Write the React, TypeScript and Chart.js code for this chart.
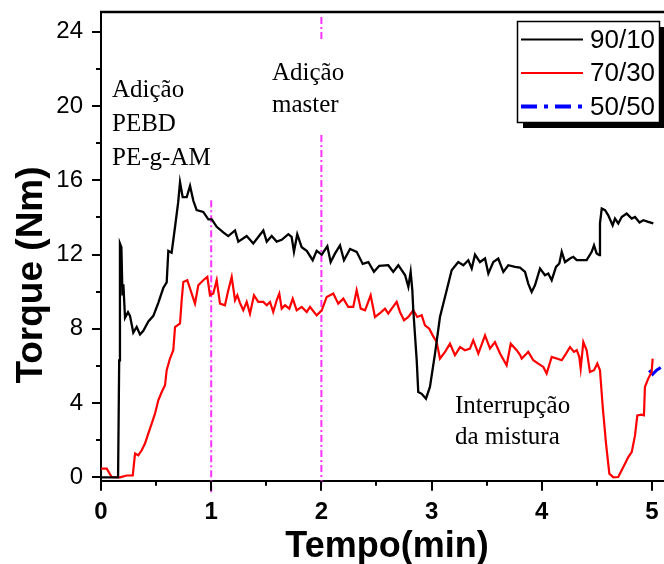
import React, { useEffect, useRef } from 'react';
import { Chart, registerables } from 'chart.js';

Chart.register(...registerables);

const SANS = "'Liberation Sans', Arial, Helvetica, sans-serif";
const SERIF = "'Liberation Serif', 'Times New Roman', Times, serif";

// ---- data (time in min, torque in Nm) ----
const t9010 = [0, 0.155, 0.165, 0.172, 0.185, 0.195, 0.203, 0.218, 0.245, 0.263, 0.293, 0.324, 0.354, 0.384, 0.43, 0.475, 0.52, 0.565, 0.596, 0.611, 0.641, 0.672, 0.7, 0.717, 0.741, 0.778, 0.808, 0.838, 0.868, 0.928, 0.974, 1.005, 1.05, 1.11, 1.155, 1.216, 1.246, 1.322, 1.382, 1.427, 1.473, 1.504, 1.549, 1.594, 1.64, 1.7, 1.73, 1.751, 1.781, 1.821, 1.867, 1.921, 1.957, 2.003, 2.054, 2.084, 2.123, 2.169, 2.205, 2.26, 2.32, 2.375, 2.426, 2.477, 2.525, 2.607, 2.652, 2.698, 2.759, 2.789, 2.81, 2.825, 2.834, 2.865, 2.879, 2.91, 2.949, 2.985, 3.031, 3.076, 3.137, 3.182, 3.242, 3.288, 3.333, 3.364, 3.394, 3.439, 3.485, 3.515, 3.56, 3.605, 3.651, 3.696, 3.757, 3.802, 3.848, 3.877, 3.908, 3.938, 3.984, 4.029, 4.059, 4.09, 4.129, 4.159, 4.181, 4.211, 4.256, 4.286, 4.317, 4.407, 4.453, 4.474, 4.498, 4.522, 4.528, 4.544, 4.574, 4.603, 4.643, 4.664, 4.694, 4.725, 4.77, 4.816, 4.846, 4.887, 4.921, 4.966, 5.012];
const v9010 = [0, 0, 6.3, 12.6, 12.4, 9.8, 10.4, 8.6, 8.9, 8.7, 7.8, 8.1, 7.7, 7.9, 8.4, 8.7, 9.4, 10.2, 10.5, 12.2, 12.1, 13.5, 14.8, 15.9, 15.1, 15.1, 15.7, 14.9, 14.4, 14.3, 13.9, 13.9, 13.5, 13.2, 13.0, 13.3, 12.7, 13.0, 12.6, 12.95, 13.3, 12.7, 13.0, 12.7, 12.8, 13.1, 12.95, 12.15, 13.1, 12.4, 12.2, 11.7, 12.2, 12.0, 12.45, 11.6, 12.05, 12.5, 11.7, 12.3, 12.15, 11.5, 11.6, 11.07, 11.4, 11.43, 11.07, 11.43, 10.9, 10.26, 11.07, 10.1, 9.0, 6.3, 4.6, 4.5, 4.24, 4.87, 6.67, 8.64, 10.08, 11.16, 11.6, 11.43, 11.7, 11.25, 12.0, 11.6, 11.79, 10.98, 11.6, 11.79, 11.07, 11.43, 11.34, 11.3, 11.07, 10.44, 9.99, 10.35, 11.25, 10.89, 10.98, 10.62, 11.34, 11.52, 12.15, 11.6, 11.79, 11.88, 11.7, 11.7, 12.15, 12.5, 12.06, 11.97, 13.68, 14.48, 14.39, 14.12, 13.58, 13.94, 13.68, 14.03, 14.21, 13.94, 14.03, 13.73, 13.85, 13.76, 13.68];

const t7030 = [0, 0.052, 0.097, 0.172, 0.233, 0.288, 0.309, 0.338, 0.369, 0.399, 0.429, 0.46, 0.49, 0.52, 0.551, 0.581, 0.596, 0.626, 0.656, 0.672, 0.717, 0.732, 0.747, 0.783, 0.823, 0.853, 0.883, 0.928, 0.965, 0.989, 1.019, 1.05, 1.08, 1.125, 1.155, 1.186, 1.216, 1.237, 1.261, 1.291, 1.322, 1.352, 1.388, 1.427, 1.473, 1.504, 1.534, 1.563, 1.594, 1.618, 1.64, 1.67, 1.709, 1.74, 1.776, 1.821, 1.867, 1.897, 1.957, 2.003, 2.048, 2.108, 2.153, 2.199, 2.244, 2.289, 2.32, 2.357, 2.396, 2.447, 2.486, 2.532, 2.577, 2.607, 2.638, 2.683, 2.713, 2.75, 2.789, 2.834, 2.87, 2.91, 2.94, 2.979, 3.01, 3.046, 3.076, 3.122, 3.167, 3.212, 3.258, 3.303, 3.348, 3.378, 3.424, 3.485, 3.53, 3.575, 3.621, 3.681, 3.718, 3.772, 3.802, 3.818, 3.863, 3.877, 3.923, 3.968, 4.014, 4.044, 4.09, 4.135, 4.181, 4.22, 4.256, 4.292, 4.317, 4.34, 4.353, 4.377, 4.407, 4.437, 4.474, 4.504, 4.528, 4.553, 4.583, 4.613, 4.649, 4.694, 4.74, 4.785, 4.816, 4.846, 4.867, 4.906, 4.927, 4.936, 4.966, 4.997, 5.006];
const v7030 = [0.47, 0.47, 0.02, 0.0, 0.1, 0.1, 1.28, 1.19, 1.46, 1.82, 2.36, 2.9, 3.43, 4.15, 4.6, 4.96, 5.77, 6.4, 6.85, 8.1, 8.29, 9.54, 10.53, 10.62, 9.9, 9.36, 10.35, 10.62, 10.8, 9.81, 9.9, 10.62, 9.36, 9.27, 10.08, 10.8, 9.54, 9.81, 9.4, 9.0, 9.45, 8.82, 9.81, 9.45, 9.45, 9.27, 9.45, 8.91, 9.54, 9.9, 9.09, 9.27, 9.09, 9.63, 9.0, 9.18, 8.91, 9.18, 8.73, 9.0, 9.72, 9.9, 9.36, 9.63, 9.18, 9.18, 10.08, 9.09, 9.0, 9.81, 8.64, 8.85, 9.09, 8.82, 9.09, 9.45, 8.91, 8.46, 8.64, 9.0, 8.64, 8.73, 8.19, 8.01, 7.65, 7.29, 6.4, 6.76, 7.2, 6.58, 7.02, 6.85, 6.94, 7.39, 6.67, 7.65, 6.94, 7.29, 6.67, 6.04, 7.2, 6.85, 6.6, 6.4, 6.67, 6.76, 6.31, 6.13, 5.95, 5.59, 6.49, 6.4, 6.31, 6.67, 7.02, 6.76, 6.85, 6.49, 5.86, 7.29, 6.85, 5.68, 5.77, 6.13, 5.77, 3.79, 1.82, 0.2, 0.0, 0.02, 0.56, 1.09, 1.36, 2.26, 3.34, 3.38, 3.34, 4.87, 5.32, 5.68, 6.4];

const t5050 = [4.975, 5.006, 5.042, 5.108, 5.2];
const v5050 = [5.77, 5.55, 5.77, 6.04, 6.3];

const seriesLabels = ['90/10', '70/30', '50/50'];

// vertical marker lines (addition events)
const mark1X = 1;
const mark1Y = [14.93, -0.95];
const mark2X = 2;
const mark2aY = [24.8, 23.56];
const mark2bY = [18.44, -0.35];

// axis ticks
const xTicks = [0, 1, 2, 3, 4, 5];
const xMinorTicks = [0.5, 1.5, 2.5, 3.5, 4.5];
const yTicks = [0, 4, 8, 12, 16, 20, 24];
const yMinorTicks = [2, 6, 10, 14, 18, 22];

const xTitle = 'Tempo(min)';
const yTitle = 'Torque (Nm)';

const notes = [
  { x: 0.1, y: 20.5, lines: ['Adição', 'PEBD', 'PE-g-AM'], gap: 34 },
  { x: 1.552, y: 21.4, lines: ['Adição', 'master'], gap: 32 },
  { x: 3.212, y: 3.45, lines: ['Interrupção', 'da mistura'], gap: 31 },
];

const toXY = (ts: number[], vs: number[]) => ts.map((t, i) => ({ x: t, y: vs[i] }));

const MAGENTA = '#ff33ff';
const MAG_DASH = [7, 3, 2, 3];

const decor = {
  id: 'decor',
  afterDraw(chart: any) {
    const { ctx, chartArea: a, scales } = chart;
    const x = scales.x;
    const y = scales.y;
    ctx.save();
    ctx.strokeStyle = '#000';
    ctx.lineWidth = 2;
    ctx.setLineDash([]);
    const seg = (x1: number, y1: number, x2: number, y2: number) => {
      ctx.beginPath();
      ctx.moveTo(x1, y1);
      ctx.lineTo(x2, y2);
      ctx.stroke();
    };
    // top frame line
    ctx.lineWidth = 2.5;
    seg(a.left - 1, a.top, a.right, a.top);
    ctx.lineWidth = 2;
    // tick marks (outward)
    xTicks.forEach((v) => { const p = Math.round(x.getPixelForValue(v)); seg(p, a.bottom, p, a.bottom + 10); });
    xMinorTicks.forEach((v) => { const p = Math.round(x.getPixelForValue(v)); seg(p, a.bottom, p, a.bottom + 5); });
    yTicks.forEach((v) => { const p = Math.round(y.getPixelForValue(v)); seg(a.left, p, a.left - 9, p); });
    yMinorTicks.forEach((v) => { const p = Math.round(y.getPixelForValue(v)); seg(a.left, p, a.left - 5, p); });

    // annotations
    ctx.fillStyle = '#000';
    ctx.font = `25px ${SERIF}`;
    ctx.textAlign = 'left';
    ctx.textBaseline = 'alphabetic';
    notes.forEach((n) => {
      const px = x.getPixelForValue(n.x);
      const py = y.getPixelForValue(n.y);
      n.lines.forEach((s, i) => ctx.fillText(s, px, py + i * n.gap));
    });

    // legend box with shadow
    const L = { x: 517, y: 21, w: 142, h: 101 };
    ctx.fillStyle = '#000';
    ctx.fillRect(L.x + 6, L.y + 6, L.w, L.h);
    ctx.fillStyle = '#fff';
    ctx.fillRect(L.x, L.y, L.w, L.h);
    ctx.lineWidth = 1.5;
    ctx.strokeStyle = '#000';
    ctx.strokeRect(L.x + 0.5, L.y + 0.5, L.w, L.h);
    const rows = [39.5, 73, 106.5];
    const ds = chart.data.datasets;
    ctx.font = `26px ${SANS}`;
    ctx.textBaseline = 'middle';
    for (let i = 0; i < 3; i++) {
      const d = ds[i];
      ctx.strokeStyle = d.borderColor;
      ctx.lineWidth = i === 2 ? 4 : 2;
      ctx.setLineDash(i === 2 ? [16, 7, 4, 7] : []);
      seg(521, rows[i], 583, rows[i]);
      ctx.setLineDash([]);
      ctx.fillStyle = '#000';
      ctx.fillText(d.label, 590, rows[i] + 1);
    }

    // axis titles
    ctx.fillStyle = '#000';
    ctx.textBaseline = 'alphabetic';
    ctx.textAlign = 'center';
    ctx.font = `bold 36px ${SANS}`;
    ctx.fillText(xTitle, 387, 557);
    ctx.save();
    ctx.translate(42, 275);
    ctx.rotate(-Math.PI / 2);
    ctx.font = `bold 37px ${SANS}`;
    ctx.fillText(yTitle, 0, 0);
    ctx.restore();

    ctx.restore();
  },
};

export default function App() {
  const ref = useRef<HTMLCanvasElement | null>(null);

  useEffect(() => {
    const canvas = ref.current;
    if (!canvas) return;
    const chart = new Chart(canvas, {
      type: 'line',
      data: {
        datasets: [
          { label: seriesLabels[0], data: toXY(t9010, v9010), borderColor: '#000000', borderWidth: 2.3, pointRadius: 0, fill: false },
          { label: seriesLabels[1], data: toXY(t7030, v7030), borderColor: '#ff0000', borderWidth: 2.2, pointRadius: 0, fill: false },
          { label: seriesLabels[2], data: toXY(t5050, v5050), borderColor: '#0000ff', borderWidth: 3, borderDash: [16, 7, 4, 7], pointRadius: 0, fill: false },
          { label: 'm1', data: mark1Y.map((v) => ({ x: mark1X, y: v })), borderColor: MAGENTA, borderWidth: 2, borderDash: MAG_DASH, pointRadius: 0, clip: false },
          { label: 'm2a', data: mark2aY.map((v) => ({ x: mark2X, y: v })), borderColor: MAGENTA, borderWidth: 2, borderDash: MAG_DASH, pointRadius: 0, clip: false },
          { label: 'm2b', data: mark2bY.map((v) => ({ x: mark2X, y: v })), borderColor: MAGENTA, borderWidth: 2, borderDash: MAG_DASH, pointRadius: 0, clip: false },
        ],
      } as any,
      options: {
        animation: false,
        responsive: false,
        devicePixelRatio: 1,
        layout: { padding: { top: 12, left: 0, right: 0, bottom: 0 } },
        plugins: { legend: { display: false }, tooltip: { enabled: false } },
        elements: { point: { radius: 0 }, line: { tension: 0 } },
        scales: {
          x: {
            type: 'linear',
            min: 0,
            max: 5.109,
            afterBuildTicks: (s: any) => { s.ticks = xTicks.map((v) => ({ value: v })); },
            afterFit: (s: any) => { s.height = 83.3; },
            grid: { display: false, drawTicks: true, tickLength: 17 },
            border: { display: true, color: '#000', width: 2 },
            ticks: {
              padding: 0,
              color: '#000',
              autoSkip: false,
              maxRotation: 0,
              font: { family: SANS, size: 24, weight: 'bold', lineHeight: 1.2 },
              callback: (v: any) => String(v),
            },
          },
          y: {
            type: 'linear',
            min: -0.18,
            max: 25.07,
            afterBuildTicks: (s: any) => { s.ticks = yTicks.map((v) => ({ value: v })); },
            afterFit: (s: any) => { s.width = 101; },
            grid: { display: false, drawTicks: true, tickLength: 18 },
            border: { display: true, color: '#000', width: 2 },
            ticks: {
              padding: 0,
              color: '#000',
              autoSkip: false,
              font: { family: SANS, size: 24, lineHeight: 1 },
              callback: (v: any) => String(v),
            },
          },
        },
      } as any,
      plugins: [decor as any],
    });
    return () => chart.destroy();
  }, []);

  return (
    <div style={{ position: 'absolute', left: 0, top: 0, width: 664, height: 564, background: '#fff' }}>
      <canvas ref={ref} width={664} height={564} style={{ display: 'block', width: 664, height: 564 }} />
    </div>
  );
}
